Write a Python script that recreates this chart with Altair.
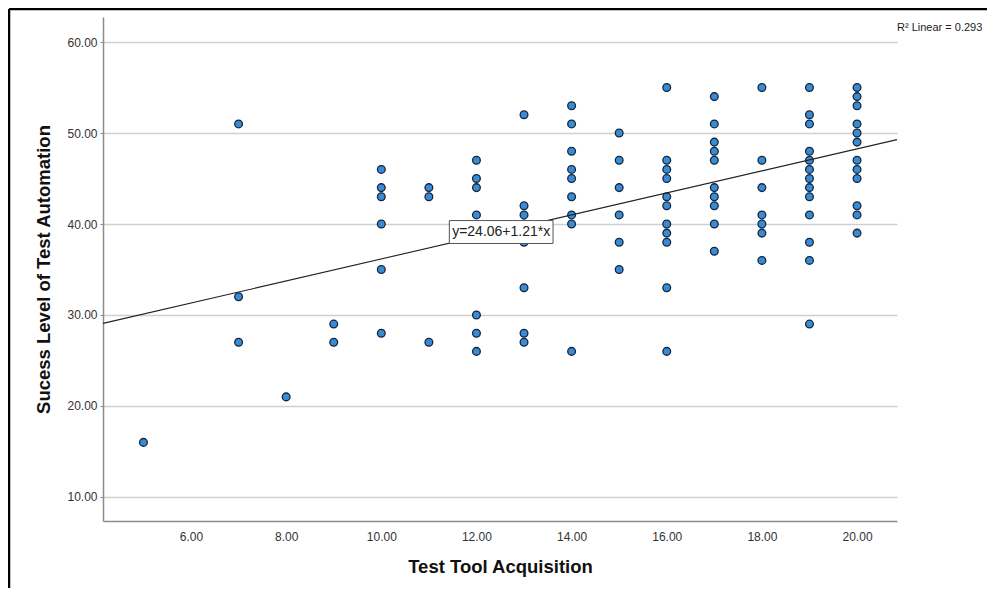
import altair as alt
import pandas as pd

# ---- data ----
tool_levels = [5, 7, 8, 9, 10, 11, 12, 13, 14, 15, 16, 17, 18, 19, 20]
success_5 = [16]
success_7 = [51, 32, 27]
success_8 = [21]
success_9 = [29, 27]
success_10 = [46, 44, 43, 40, 35, 28]
success_11 = [44, 43, 27]
success_12 = [47, 45, 44, 41, 30, 28, 26]
success_13 = [52, 42, 41, 40, 38, 33, 28, 27]
success_14 = [53, 51, 48, 46, 45, 43, 41, 40, 26]
success_15 = [50, 47, 44, 41, 38, 35]
success_16 = [55, 47, 46, 45, 43, 42, 40, 39, 38, 33, 26]
success_17 = [54, 51, 49, 48, 47, 44, 43, 42, 40, 37]
success_18 = [55, 47, 44, 41, 40, 39, 36]
success_19 = [55, 52, 51, 48, 47, 46, 45, 44, 43, 41, 38, 36, 29]
success_20 = [55, 54, 53, 51, 50, 49, 47, 46, 45, 42, 41, 39]
success_by_level = [success_5, success_7, success_8, success_9, success_10, success_11,
                    success_12, success_13, success_14, success_15, success_16,
                    success_17, success_18, success_19, success_20]

fit_intercept = 24.06
fit_slope = 1.21
fit_label = "y=24.06+1.21*x"
r2_label = "R\u00b2 Linear = 0.293"

x_domain = [4.15, 20.84]
y_domain = [7.36, 62.75]
x_ticks = [6, 8, 10, 12, 14, 16, 18, 20]
y_ticks = [10, 20, 30, 40, 50, 60]

# label box placement (data units)
label_x = 12.52
label_y = 39.12
label_half_w = 1.09
label_half_h = 1.26

FONT = "Liberation Sans"

rows = []
for lvl, vals in zip(tool_levels, success_by_level):
    for v in vals:
        rows.append({"x": lvl, "y": v})
points_df = pd.DataFrame(rows)

fit_df = pd.DataFrame({"x": x_domain,
                       "y": [fit_intercept + fit_slope * v for v in x_domain]})
label_df = pd.DataFrame([{"x": label_x - label_half_w, "x2": label_x + label_half_w,
                          "y": label_y - label_half_h, "y2": label_y + label_half_h,
                          "cx": label_x, "cy": label_y, "t": fit_label}])

xs = alt.Scale(domain=x_domain, nice=False, zero=False)
ys = alt.Scale(domain=y_domain, nice=False, zero=False)

x_axis = alt.Axis(values=x_ticks, format=".2f", grid=False, tickSize=0,
                  labelPadding=10, title="Test Tool Acquisition", titlePadding=15,
                  titleFontSize=18.5, titleFontWeight="bold", labelFontSize=12,
                  domainColor="#8c8c8c", domainWidth=1.5, labelColor="#333333",
                  titleColor="#111111", labelFont=FONT, titleFont=FONT)
y_axis = alt.Axis(values=y_ticks, format=".2f", grid=True, gridColor="#cfcfcf",
                  gridWidth=1.5, tickSize=3, tickColor="#8c8c8c", labelPadding=3,
                  title="Sucess Level of Test Automation", titlePadding=13,
                  titleFontSize=18.5, titleFontWeight="bold", labelFontSize=12,
                  domainColor="#8c8c8c", domainWidth=1.5, labelColor="#333333",
                  titleColor="#111111", labelFont=FONT, titleFont=FONT)

pts = alt.Chart(points_df).mark_point(
    filled=True, shape="circle", size=60, fill="#3a8bd0",
    stroke="#13253f", strokeWidth=1.3, opacity=1
).encode(
    x=alt.X("x:Q", scale=xs, axis=x_axis),
    y=alt.Y("y:Q", scale=ys, axis=y_axis),
)

fit = alt.Chart(fit_df).mark_line(color="#222222", strokeWidth=1.1).encode(
    x=alt.X("x:Q", scale=xs), y=alt.Y("y:Q", scale=ys))

box = alt.Chart(label_df).mark_rect(fill="white", stroke="#555555", strokeWidth=1).encode(
    x=alt.X("x:Q", scale=xs), x2="x2:Q",
    y=alt.Y("y:Q", scale=ys), y2="y2:Q")

box_text = alt.Chart(label_df).mark_text(font=FONT, fontSize=14, color="#222222").encode(
    x=alt.X("cx:Q", scale=xs), y=alt.Y("cy:Q", scale=ys), text="t:N")

r2 = alt.Chart(pd.DataFrame({"t": [r2_label]})).mark_text(
    font=FONT, fontSize=11, color="#222222", align="left", baseline="middle"
).encode(x=alt.value(794), y=alt.value(11), text="t:N")

border_top = alt.Chart(pd.DataFrame({"k": [0]})).mark_rule(color="black", strokeWidth=2.5).encode(
    x=alt.value(-94), x2=alt.value(900), y=alt.value(-8))
border_left = alt.Chart(pd.DataFrame({"k": [0]})).mark_rule(color="black", strokeWidth=2.5).encode(
    x=alt.value(-94), y=alt.value(-8), y2=alt.value(600))

chart = alt.layer(pts, fit, box, box_text, r2, border_top, border_left).properties(
    width=794, height=504,
    padding={"left": 95, "top": 9, "right": 90, "bottom": 67},
    autosize=alt.AutoSizeParams(type="none"),
).configure(background="white").configure_view(strokeWidth=0, stroke="transparent")

chart.save("out.html", embed_options={"renderer": "svg", "actions": False})
